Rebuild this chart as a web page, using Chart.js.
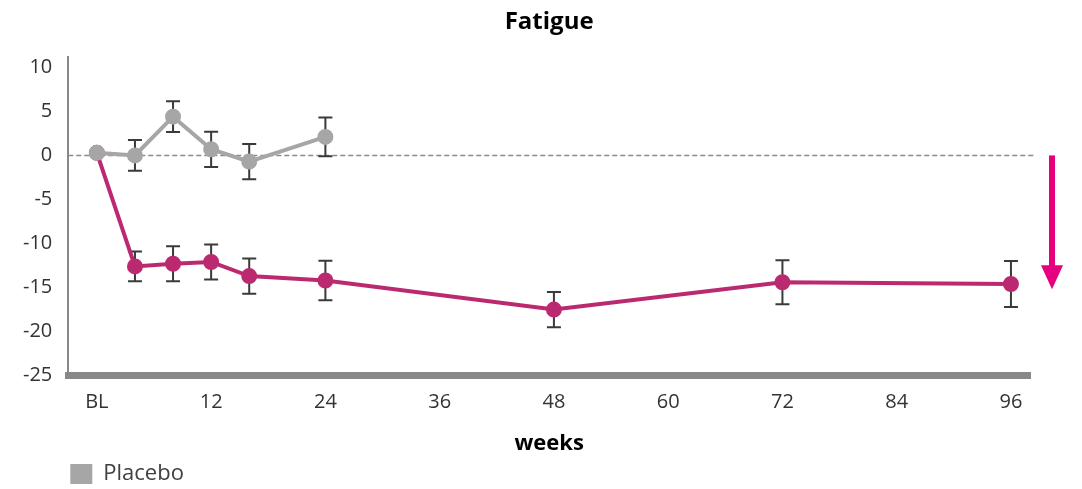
<!DOCTYPE html>
<html>
<head>
<meta charset="utf-8">
<script src="https://cdn.jsdelivr.net/npm/chart.js@4.4.1/dist/chart.umd.min.js"></script>
<style>
  html, body { margin: 0; padding: 0; background: #fff; }
  #wrap { width: 1082px; height: 489px; }
</style>
</head>
<body>
<div id="wrap"><canvas id="grafico"></canvas></div>
<script>
// weeks
const semanasPlacebo = [0, 4, 8, 12, 16, 24];
const semanasTrat = [0, 4, 8, 12, 16, 24, 48, 72, 96];

// mean change from baseline
const placebo = [0.3, 0, 4.4, 0.7, -0.7, 2.1];
const tratamiento = [0.3, -12.6, -12.3, -12.1, -13.7, -14.2, -17.5, -14.4, -14.6];

// error bar half-length
const errPlacebo = [0, 1.75, 1.75, 2.0, 2.0, 2.2];
const errTrat = [0, 1.7, 2.0, 2.0, 2.0, 2.25, 2.0, 2.5, 2.6];

const xTicks = [0, 12, 24, 36, 48, 60, 72, 84, 96];
const yTicks = [-25, -20, -15, -10, -5, 0, 5, 10];

const fuente = "'Open Sans', 'Noto Sans', sans-serif";

const barrasError = {
    id: 'barrasError',
    beforeDatasetsDraw(chart) {
        const { ctx, scales: { x, y } } = chart;
        ctx.save();
        ctx.strokeStyle = '#3a3a3a';
        ctx.lineWidth = 2;
        chart.data.datasets.forEach(ds => {
            ds.data.forEach((p, i) => {
                const e = ds.errores[i];
                if (!e) return;
                const px = x.getPixelForValue(p.x);
                const y1 = y.getPixelForValue(p.y + e);
                const y2 = y.getPixelForValue(p.y - e);
                ctx.beginPath();
                ctx.moveTo(px, y1); ctx.lineTo(px, y2);
                ctx.moveTo(px - 7, y1); ctx.lineTo(px + 7, y1);
                ctx.moveTo(px - 7, y2); ctx.lineTo(px + 7, y2);
                ctx.stroke();
            });
        });
        ctx.restore();
    }
};

const lineaCero = {
    id: 'lineaCero',
    beforeDatasetsDraw(chart) {
        const { ctx, chartArea, scales: { y } } = chart;
        const py = y.getPixelForValue(0);
        ctx.save();
        ctx.strokeStyle = '#8a8a8a';
        ctx.lineWidth = 1.5;
        ctx.setLineDash([5, 3]);
        ctx.beginPath();
        ctx.moveTo(chartArea.left, py);
        ctx.lineTo(chartArea.right + 5, py);
        ctx.stroke();
        ctx.restore();
    }
};

const flecha = {
    id: 'flecha',
    afterDraw(chart) {
        const { ctx, chartArea, scales: { y } } = chart;
        const px = chartArea.right + 22;
        const top = y.getPixelForValue(0);
        const tip = y.getPixelForValue(-15.2);
        ctx.save();
        ctx.fillStyle = '#e5007d';
        ctx.fillRect(px - 3, top, 6, tip - top - 20);
        ctx.beginPath();
        ctx.moveTo(px - 11, tip - 24);
        ctx.lineTo(px + 11, tip - 24);
        ctx.lineTo(px, tip);
        ctx.closePath();
        ctx.fill();
        ctx.restore();
    }
};

const ctx = document.getElementById('grafico');

new Chart(ctx, {
    type: 'line',
    data: {
        datasets: [{
            label: 'Placebo',
            data: semanasPlacebo.map((s, i) => ({ x: s, y: placebo[i] })),
            errores: errPlacebo,
            borderColor: '#a6a6a6',
            backgroundColor: '#a6a6a6',
            borderWidth: 4,
            pointRadius: 6,
            pointHoverRadius: 6,
            tension: 0
        }, {
            label: 'Tratamiento',
            data: semanasTrat.map((s, i) => ({ x: s, y: tratamiento[i] })),
            errores: errTrat,
            borderColor: '#bb2a70',
            backgroundColor: '#bb2a70',
            borderWidth: 4,
            pointRadius: 6,
            pointHoverRadius: 6,
            tension: 0
        }]
    },
    options: {
        responsive: true,
        maintainAspectRatio: false,
        animation: false,
        layout: { padding: { left: 7, right: 52, top: 0, bottom: -6 } },
        plugins: {
            title: {
                display: true,
                fullSize: false,
                text: 'Fatigue',
                color: '#000',
                font: { family: fuente, size: 24, weight: 'bold' },
                padding: { top: 8, bottom: 20 }
            },
            legend: {
                position: 'bottom',
                align: 'start',
                fullSize: false,
                labels: {
                    color: '#404040',
                    font: { family: fuente, size: 22 },
                    boxWidth: 22,
                    boxHeight: 20,
                    padding: 2,
                    filter: item => item.text === 'Placebo',
                    generateLabels(chart) {
                        const items = Chart.defaults.plugins.legend.labels.generateLabels(chart);
                        items.forEach(it => { it.lineWidth = 0; });
                        return items;
                    }
                }
            },
            tooltip: { enabled: false }
        },
        scales: {
            x: {
                type: 'linear',
                min: -3,
                max: 98,
                afterBuildTicks: scale => { scale.ticks = xTicks.map(v => ({ value: v })); },
                grid: { display: false, drawTicks: false },
                border: { display: true, color: '#888', width: 7 },
                ticks: {
                    color: '#333',
                    font: { family: fuente, size: 20 },
                    padding: 15,
                    maxRotation: 0,
                    callback: v => v === 0 ? 'BL' : v
                },
                title: {
                    display: true,
                    text: 'weeks',
                    color: '#000',
                    font: { family: fuente, size: 22, weight: 'bold' },
                    padding: { top: 1, bottom: 4 }
                }
            },
            y: {
                min: -25,
                max: 11.2,
                afterBuildTicks: scale => { scale.ticks = yTicks.map(v => ({ value: v })); },
                grid: { display: false, drawTicks: false },
                border: { display: true, color: '#888', width: 2 },
                ticks: {
                    color: '#333',
                    font: { family: fuente, size: 20 },
                    padding: 16
                }
            }
        }
    },
    plugins: [lineaCero, barrasError, flecha]
});
</script>
</body>
</html>
